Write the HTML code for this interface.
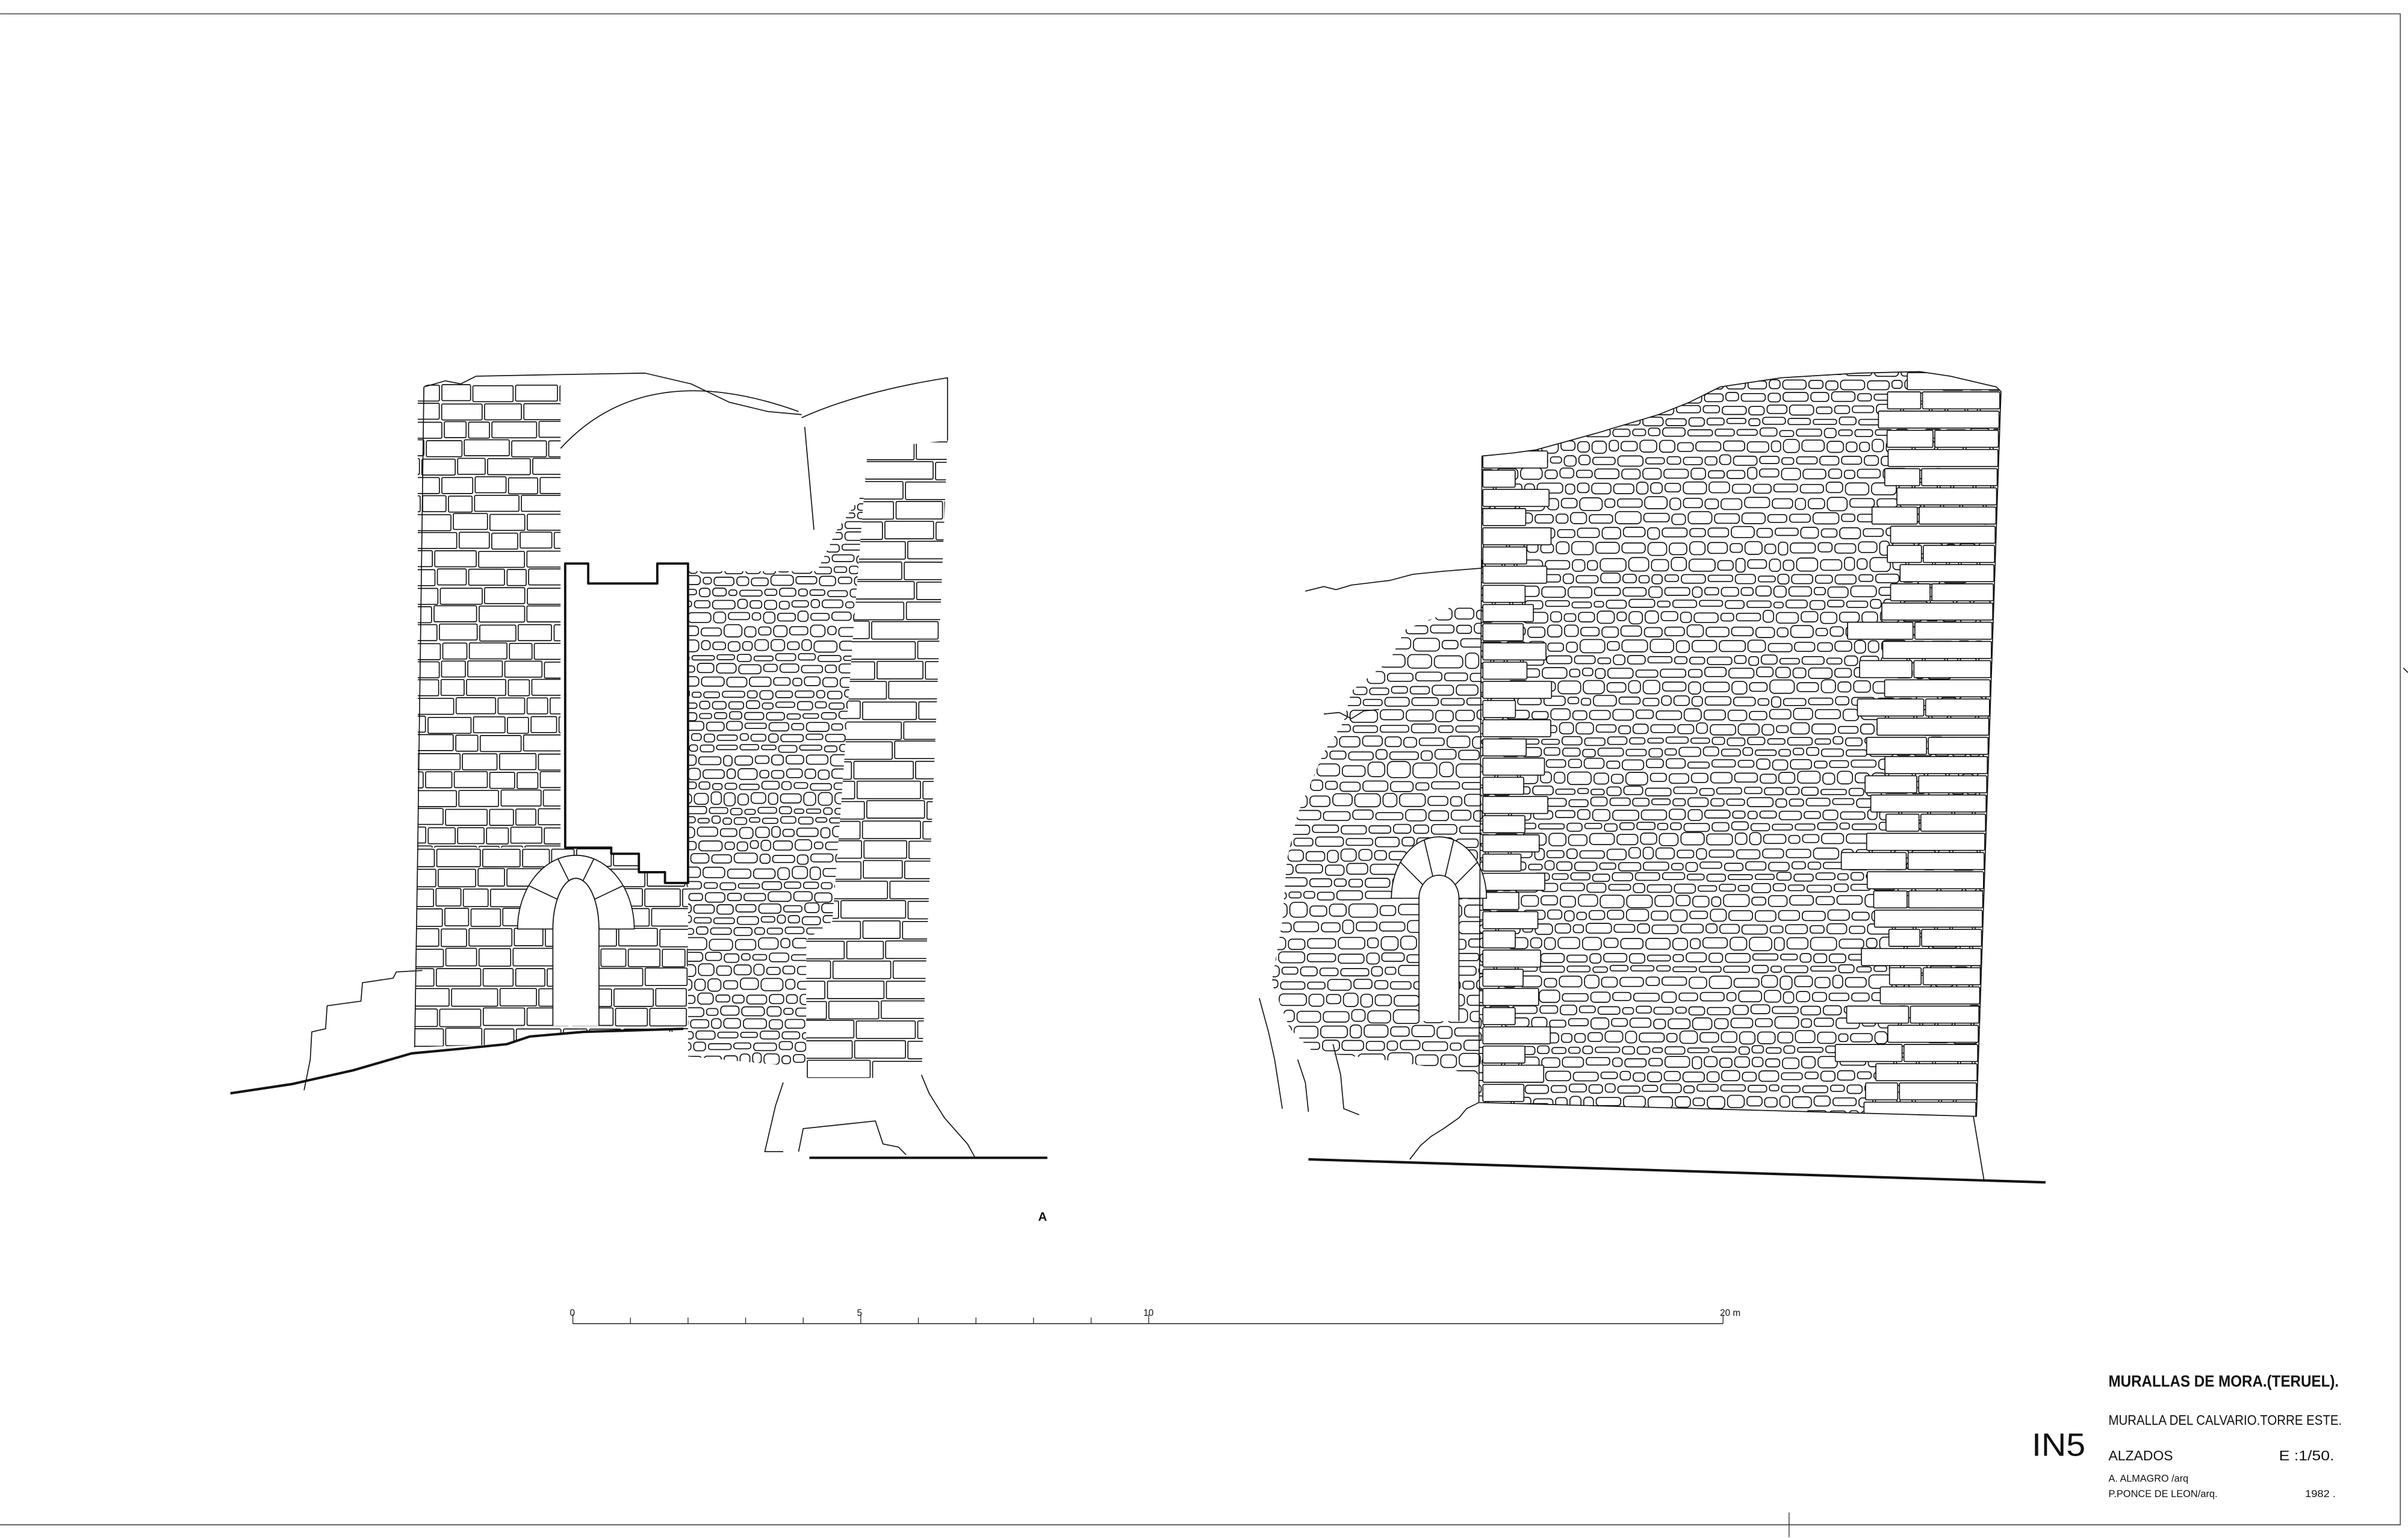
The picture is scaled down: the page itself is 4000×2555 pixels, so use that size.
<!DOCTYPE html>
<html><head><meta charset="utf-8">
<style>
html,body{margin:0;padding:0;background:#fff;}
svg{display:block;}
text{font-family:"Liberation Sans",sans-serif;fill:#111;}
</style></head>
<body>
<svg id="s" width="4000" height="2555" viewBox="0 0 1568 1001.6" xmlns="http://www.w3.org/2000/svg">
<g id="draw" fill="#fff" stroke="#111" stroke-width="0.65" stroke-linejoin="round"></g>
<g fill="none" stroke="#222" stroke-width="0.5">
<path d="M0,9 L1563,9 L1563,993 L0,993"/>
<path d="M1165,985 L1165,1001"/>
<path d="M373,862 L1122,862" stroke-width="0.6"/>
<path d="M373,856 V862 M410.5,858 V862 M448,858 V862 M485.5,858 V862 M523,858 V862 M560.5,856 V862 M598,858 V862 M635.5,858 V862 M673,858 V862 M710.5,858 V862 M748,856 V862 M1122,856 V862"/>
</g>
<text x="371" y="857" font-size="6">0</text>
<text x="558" y="857" font-size="6">5</text>
<text x="744.5" y="857" font-size="6">10</text>
<text x="1120" y="857" font-size="6">20 m</text>
<text x="676" y="795" font-size="8" font-weight="bold">A</text>
<text x="1373" y="903" font-size="10.5" font-weight="bold" textLength="150" lengthAdjust="spacingAndGlyphs">MURALLAS DE MORA.(TERUEL).</text>
<text x="1373" y="928" font-size="9" textLength="152" lengthAdjust="spacingAndGlyphs">MURALLA DEL CALVARIO.TORRE ESTE.</text>
<text x="1323" y="948" font-size="21" textLength="35" lengthAdjust="spacingAndGlyphs">IN5</text>
<text x="1373" y="951" font-size="9" textLength="42" lengthAdjust="spacingAndGlyphs">ALZADOS</text>
<text x="1484" y="951" font-size="9" textLength="36" lengthAdjust="spacingAndGlyphs">E :1/50.</text>
<text x="1373" y="965" font-size="6.5" textLength="52" lengthAdjust="spacingAndGlyphs">A. ALMAGRO /arq</text>
<text x="1373" y="975" font-size="6.5" textLength="71" lengthAdjust="spacingAndGlyphs">P.PONCE DE LEON/arq.</text>
<text x="1501" y="975" font-size="6.5" textLength="20" lengthAdjust="spacingAndGlyphs">1982 .</text>
</svg>
<script>
(function(){
var seed=12345;function R(){seed|=0;seed=seed+0x6D2B79F5|0;var t=Math.imul(seed^seed>>>15,1|seed);t=t+Math.imul(t^t>>>7,61|t)^t;return((t^t>>>14)>>>0)/4294967296;}
function f(n){return n.toFixed(1);}
function rect(x,y,w,h,rx){if(w<1||h<1)return'';return '<rect x="'+f(x)+'" y="'+f(y)+'" width="'+f(w)+'" height="'+f(h)+'" rx="'+f(rx)+'"/>';}
function courses(x0,x1,y0,y1,h,wmin,wmax){var s='';for(var y=y0;y<y1;y+=h){var x=x0-R()*wmax;while(x<x1){var w=wmin+R()*(wmax-wmin);var j=(R()-0.5)*0.8;s+=rect(x+0.8,y+0.8+j,w-1.6,h-1.6,0.8);x+=w;}}return s;}
function rubble(x0,x1,y0,y1,sz){var s='';var y=y0;while(y<y1){var h=sz*(0.6+R()*0.4);var x=x0-R()*sz;while(x<x1){var w=sz*(0.7+R()*1.0);var hh=h*(0.65+R()*0.35);var yy=y+(h-hh)/2+(R()-0.5)*1.2;s+=rect(x+0.9,yy+0.7,w-1.8,hh-1.4,Math.min(w,hh)*0.3);x+=w;}y+=h;}return s;}
function quoinL(x0,y0,y1,h,a,b){var s='';var k=0;for(var y=y0;y<y1;y+=h){var w=(k++%2)?a:b;w*=0.85+R()*0.3;s+=rect(x0+0.6,y+0.7,w-1.2,h-1.4,0.8);}return s;}
function quoinR(xr,y0,y1,h,a,b){var s='';var k=0;for(var y=y0;y<y1;y+=h){var x=xr(y+h/2);var w=(k++%2)?a:b;w*=0.85+R()*0.3;s+=rect(x-w+0.6,y+0.7,w-1.2,h-1.4,0.8);var w2=20+R()*25;if(k%2==0)s+=rect(x-w-w2+0.6,y+0.7,w2-1.2,h-1.4,0.8);}return s;}
function clip(id,pts){return '<clipPath id="'+id+'"><polygon points="'+pts+'"/></clipPath>';}
function arch(cx,cy,ox,oy,ix,iy,bot,n){var s='<path d="M'+(cx-ox)+','+cy+' A'+ox+','+oy+' 0 0 1 '+(cx+ox)+','+cy+' L'+(cx+ix)+','+cy+' A'+ix+','+iy+' 0 0 0 '+(cx-ix)+','+cy+' Z"/>';
for(var i=1;i<n;i++){var a=Math.PI*i/n;s+='<path fill="none" d="M'+f(cx-Math.cos(a)*ix)+','+f(cy-Math.sin(a)*iy)+' L'+f(cx-Math.cos(a)*ox)+','+f(cy-Math.sin(a)*oy)+'"/>';}
s+='<path d="M'+(cx-ix)+','+bot+' L'+(cx-ix)+','+cy+' A'+ix+','+iy+' 0 0 1 '+(cx+ix)+','+cy+' L'+(cx+ix)+','+bot+'"/>';return s;}
var o='<defs>';
o+=clip('cL1','272,252 290,248 300,250 365,250 365,552 272,552');
o+=clip('cL2','272,552 398,552 398,556 416,556 416,568 433,568 433,575 448,575 448,672 380,672 345,675 330,680 270,682');
o+=clip('cL3','448,372 532,372 545,345 570,310 580,292 617,287 600,702 448,688');
o+=clip('cL4','565,292 617,287 600,702 525,702 525,612 542,600 548,520 555,420 562,330');
o+=clip('cR','965,297 985,295 1000,293 1040,282 1080,270 1100,262 1120,252 1160,246 1210,243 1250,242 1270,245 1300,252 1303,255 1287,727 963,718');
o+=clip('cW','965,370 940,400 915,410 905,430 880,450 875,470 862,490 845,530 838,560 835,600 828,640 840,670 855,685 900,690 965,700');
o+='</defs>';
o+='<g clip-path="url(#cL1)">'+courses(270,368,250,552,12,14,32)+'</g>';
o+='<g clip-path="url(#cL2)">'+courses(266,450,552,684,13,16,34)+'</g>';
o+='<g clip-path="url(#cL3)">'+rubble(444,620,280,706,10)+'</g>';
o+='<polygon points="565,292 617,287 600,702 525,702 525,612 542,600 548,520 555,420 562,330" stroke="none"/>';
o+='<g clip-path="url(#cL4)">'+courses(520,620,287,704,13,25,50)+'</g>';
o+=arch(375,605,38,48,15,33,668,5);
o+='<path stroke-width="1.5" d="M368,367 L383,367 L383,380 L428,380 L428,367 L448,367 L448,575 L433,575 L433,568 L416,568 L416,556 L398,556 L398,552 L368,552 Z"/>';
o+='<g fill="none">';
o+='<path d="M276,252 L290,248 L300,250 L310,245 L360,244 L420,243 L450,250 L475,262 L500,268 L522,270"/>';
o+='<path d="M365,292 Q420,232 520,268"/>';
o+='<path d="M522,272 Q560,255 617,246 L617,287"/><path d="M524,278 L530,345"/>';
o+='<path d="M276,252 L272,552 L270,682"/>';
o+='<path stroke-width="1.6" d="M150,712 L190,706 L230,697 L268,686 L300,683 L330,680 L345,675 L380,672 L445,670"/>';
o+='<path d="M198,710 L202,690 L203,672 L212,670 L213,655 L235,652 L236,640 L256,637 L258,633 L275,632"/>';
o+='<path d="M600,700 L605,712 L615,728 L630,745 L635,754"/><path d="M510,705 L505,720 L498,750 L510,750"/><path d="M520,750 L523,735 L570,730 L575,745 L585,747 L590,752"/>';
o+='<path stroke-width="1.6" d="M527,754 L682,754"/>';
o+='</g>';
o+='<g clip-path="url(#cW)">'+rubble(822,968,395,702,12)+'</g>';
o+='<g clip-path="url(#cR)">'+rubble(958,1306,238,732,11)+'</g>';
o+='<g clip-path="url(#cR)">'+quoinL(965,293,720,12.5,26,40)+quoinR(function(y){return 1303-(y-255)*16/472;},242,728,12.5,45,70)+'</g>';
o+=arch(937,585,31,40,13,15,665,5);
o+='<g fill="none">';
o+='<polygon points="965,297 985,295 1000,293 1040,282 1080,270 1100,262 1120,252 1160,246 1210,243 1250,242 1270,245 1300,252 1303,255 1287,727 963,718"/>';
o+='<path d="M963,718 L955,722 L950,728 L940,735 L932,740 L925,746 L918,755"/><path d="M1285,727 L1292,769"/>';
o+='<path stroke-width="1.6" d="M852,755 L1332,770"/>';
o+='<path d="M850,385 L862,382 L870,384 L880,381 L905,378 L920,374 L940,372 L965,370"/>';
o+='<path d="M862,465 L872,464 L880,468 L888,463 L898,462"/>';
o+='<path d="M820,650 L826,672 L830,690 L835,722"/><path d="M868,680 L873,700 L875,722 L885,726"/><path d="M845,690 L850,705 L852,724"/>';
o+='<path d="M1565,435 L1568,438"/>';
o+='</g>';
document.getElementById('draw').innerHTML=o;
})();
</script>
</body></html>
